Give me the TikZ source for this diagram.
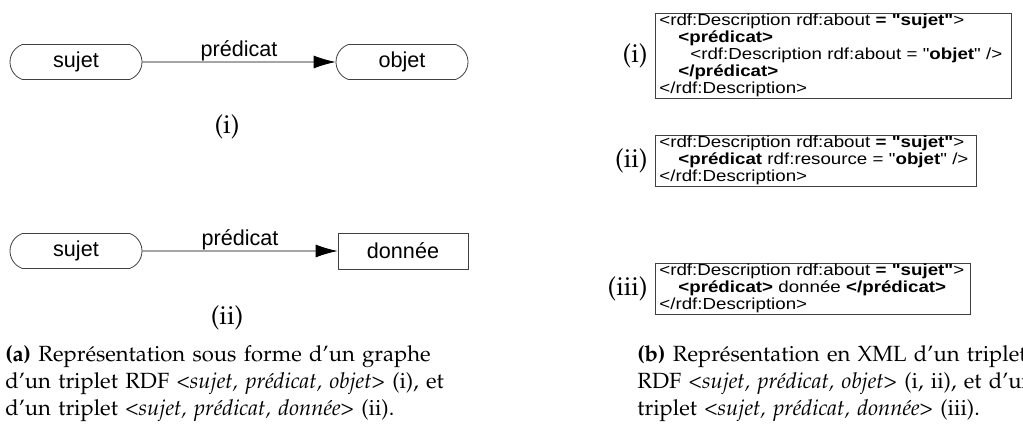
\documentclass[tikz,border=0pt]{standalone}
\usepackage[T1]{fontenc}
\usepackage{fontspec}
\setmainfont{Liberation Sans}
\newfontfamily\xmlfont[FakeStretch=1.17]{Liberation Sans}
\newcommand\palfont{\fontencoding{T1}\fontfamily{ppl}\selectfont}
\newcommand\ligne[2]{\hbox to #1{#2}\par}
\newcommand\derniere[1]{\hbox{#1}\par}
\usepackage{tikz}
\usetikzlibrary{shapes,arrows,arrows.meta,positioning,calc}

\tikzset{
  ressource/.style={draw=black!75, rounded rectangle, rounded rectangle arc length=140, minimum width=66pt, minimum height=17.5pt, inner sep=0pt, font=\fontsize{10.8}{13}\selectfont},
  litteral/.style={draw=black!75, rectangle, minimum width=65pt, minimum height=18pt, inner sep=0pt, font=\fontsize{10.8}{13}\selectfont},
  propriete/.style={draw, -{Latex[length=11pt,width=6.5pt]}},
  xmlbox/.style={draw=black!75, anchor=north west, inner xsep=2pt, inner ysep=0.5pt, align=left, font=\xmlfont\fontsize{8}{8.5}\selectfont},
  etiquette/.style={inner sep=0pt, font=\palfont\fontsize{13}{15}\selectfont},
  legende/.style={anchor=north west, inner sep=0pt, font=\palfont\fontsize{11}{13.5}\selectfont}
}

\begin{document}
\begin{tikzpicture}[x=0.5pt, y=-0.5pt]
    \useasboundingbox (0,0) rectangle (1023,426);

    % graphe (a)
    \node[ressource] (sujet1) at (76,62) {sujet};
    \node[ressource] (objet1) at (402,62) {objet};
    \draw[propriete] (sujet1) -- (objet1) node[midway, above=0.5pt, inner sep=0pt, font=\fontsize{10.8}{13}\selectfont] {prédicat};
    \node[etiquette] (num1) at (227,127) {(i)};

    \node[ressource] (sujet2) at (76,251) {sujet};
    \node[litteral] (donnee2) at (403,251) {donnée};
    \draw[propriete] (sujet2) -- (donnee2) node[midway, above=0.5pt, inner sep=0pt, font=\fontsize{10.8}{13}\selectfont] {prédicat};
    \node[etiquette] (num2) at (227,318) {(ii)};

    \node[legende, text width=235pt] (legendeA) at (5,345) {%
      \ligne{235pt}{\textbf{(a)} Représentation sous forme d'un graphe}%
      \ligne{235pt}{d'un triplet RDF \textit{<sujet, prédicat, objet>} (i), et}%
      \derniere{d'un triplet \textit{<sujet, prédicat, donnée>} (ii).}};

    % XML (b)
    \node[xmlbox, text width=174pt] (xml1) at (655,13) {<rdf:Description rdf:about \textbf{= "sujet"}>\\
      \hspace*{9.5pt}\textbf{<prédicat>}\\
      \hspace*{15.5pt}<rdf:Description rdf:about = "\textbf{objet}" />\\
      \hspace*{9.5pt}\textbf{</prédicat>}\\
      </rdf:Description>};
    \node[etiquette, left=3.5pt of xml1.west] (lab1) {(i)};

    \node[xmlbox, text width=156.5pt] (xml2) at (655,135) {<rdf:Description rdf:about \textbf{= "sujet"}>\\
      \hspace*{9.5pt}\textbf{<prédicat} rdf:resource = "\textbf{objet}" />\\
      </rdf:Description>};
    \node[etiquette, left=3.5pt of xml2.west] (lab2) {(ii)};

    \node[xmlbox, text width=153.5pt] (xml3) at (655,263) {<rdf:Description rdf:about \textbf{= "sujet"}>\\
      \hspace*{9.5pt}\textbf{<prédicat>} donnée \textbf{</prédicat>}\\
      </rdf:Description>};
    \node[etiquette, left=3.5pt of xml3.west] (lab3) {(iii)};

    \node[legende, text width=188pt] (legendeB) at (637,345) {%
      \ligne{188pt}{\textbf{(b)} Représentation en XML d'un triplet}%
      \ligne{188pt}{RDF \textit{<sujet, prédicat, objet>} (i, ii), et d'un}%
      \derniere{triplet \textit{<sujet, prédicat, donnée>} (iii).}};
\end{tikzpicture}
\end{document}
